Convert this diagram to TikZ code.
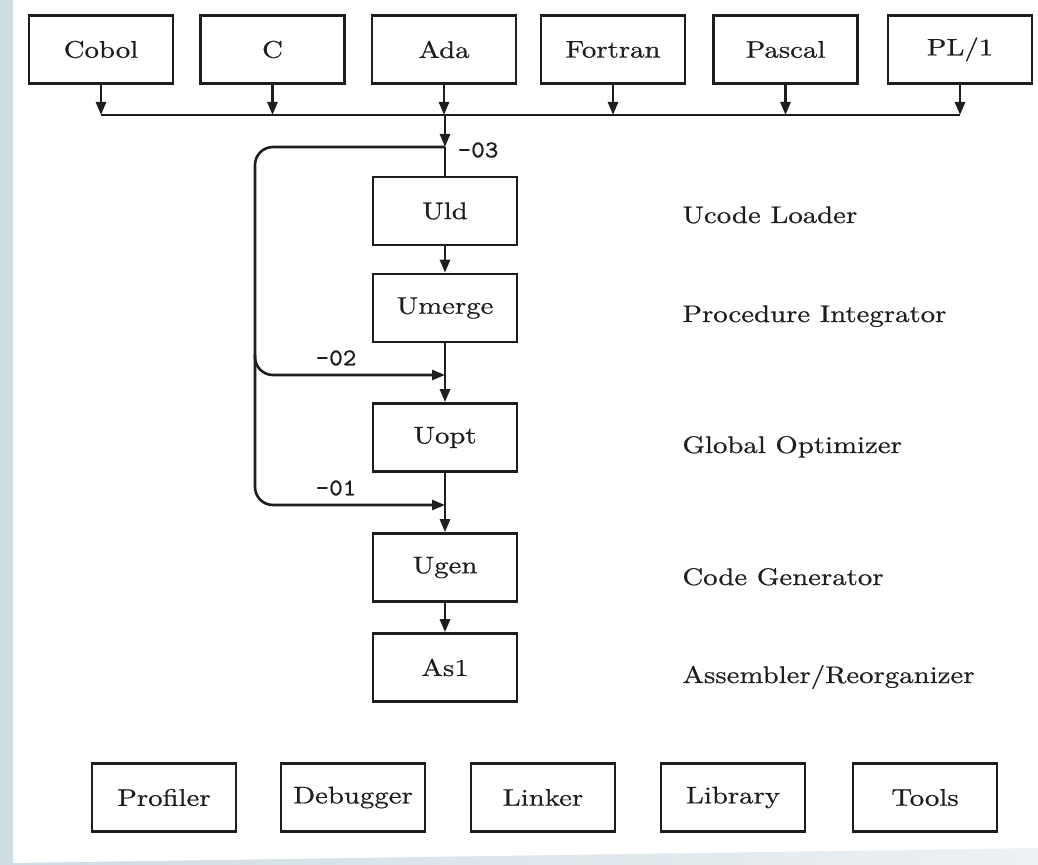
\documentclass[tikz,border=0pt]{standalone}
\usepackage{fontspec}
\setmainfont{lmroman10-regular}[Extension=.otf, FakeStretch=1.2, FakeBold=0.6]
\setmonofont{lmmono10-regular}[Extension=.otf, FakeStretch=1.08, FakeBold=0.8]
\usetikzlibrary{arrows.meta}
\definecolor{strip}{HTML}{CFDCE4}
\definecolor{stripL}{HTML}{EDF1F3}
\definecolor{ink}{HTML}{1E1E1E}
\tikzset{
  box/.style={draw=ink, line width=1.3pt, minimum width=72pt, minimum height=34pt, inner sep=0pt,
              font=\fontsize{12}{14}\selectfont, text=ink},
  lbl/.style={anchor=base west, inner sep=0pt, font=\fontsize{12}{14}\selectfont, text=ink},
  olbl/.style={inner sep=0pt, font=\ttfamily\fontsize{12}{14}\selectfont, text=ink},
  wire/.style={draw=ink, line width=1.3pt},
  arr/.style={wire, -{Triangle[length=6.5pt,width=5pt]}},
}
\begin{document}
\begin{tikzpicture}[x=0.5pt,y=-0.5pt]
% background
\useasboundingbox (0,0) rectangle (1038,865);
\fill[strip] (0,0) rectangle (1038,865);
\shade[left color=strip, right color=stripL] (13,840) rectangle (1038,865);
\fill[white] (13,0) -- (1038,0) -- (1038,848) -- (13,863) -- cycle;

% top language boxes
\node[box] (cobol)   at (101,49.5)   {Cobol};
\node[box] (c)       at (272.5,49.5) {C};
\node[box] (ada)     at (444,49.5)   {Ada};
\node[box] (fortran) at (613,49.5)   {Fortran};
\node[box] (pascal)  at (785.5,49.5) {Pascal};
\node[box] (pl1)     at (960,49.5)   {PL/1};

% bus
\coordinate (busL) at (101,115);
\coordinate (busR) at (960,115);
\coordinate (busM) at (445,115);
\draw[wire] (busL) -- (busR);
\foreach \n in {cobol,c,ada,fortran,pascal,pl1}
  \draw[arr] (\n.south) -- (\n.south |- busM);

% pipeline boxes
\node[box] (uld)    at (445,211)   {Uld};
\node[box] (umerge) at (445,308)   {Umerge};
\node[box] (uopt)   at (445,437.5) {Uopt};
\node[box] (ugen)   at (445,567.5) {Ugen};
\node[box] (asl)    at (445,667.5) {As1};

% junctions
\coordinate (j3) at (445,147);
\coordinate (j2) at (445,375);
\coordinate (j1) at (445,505);
\coordinate (loopL) at (255,147);
\coordinate (b2) at (255,355);

\draw[arr] (busM) -- (j3);
\draw[wire] (j3) -- (uld.north);
\draw[arr] (uld.south) -- (umerge.north);
\draw[arr] (umerge.south) -- (uopt.north);
\draw[arr] (uopt.south) -- (ugen.north);
\draw[arr] (ugen.south) -- (asl.north);

% bypass loop
\draw[arr, rounded corners=9pt] (j3) -- (loopL) |- (j1);
\draw[arr, rounded corners=9pt] (b2) |- (j2);

% option labels
\node[olbl] (o3) at (478,150) {-03};
\node[olbl] (o2) at (336,358) {-02};
\node[olbl] (o1) at (336,488) {-01};

% right-hand descriptions
\node[lbl] (d1) at (682,223) {Ucode Loader};
\node[lbl] (d2) at (682,322) {Procedure Integrator};
\node[lbl] (d3) at (682,453) {Global Optimizer};
\node[lbl] (d4) at (682,585) {Code Generator};
\node[lbl] (d5) at (682,683) {Assembler/Reorganizer};

% bottom tool boxes
\node[box] (prof)  at (164,797.5) {Profiler};
\node[box] (dbg)   at (353,797.5) {Debugger};
\node[box] (link)  at (543,797.5) {Linker};
\node[box] (lib)   at (733,797.5) {Library};
\node[box] (tools) at (925,797.5) {Tools};
\end{tikzpicture}
\end{document}
